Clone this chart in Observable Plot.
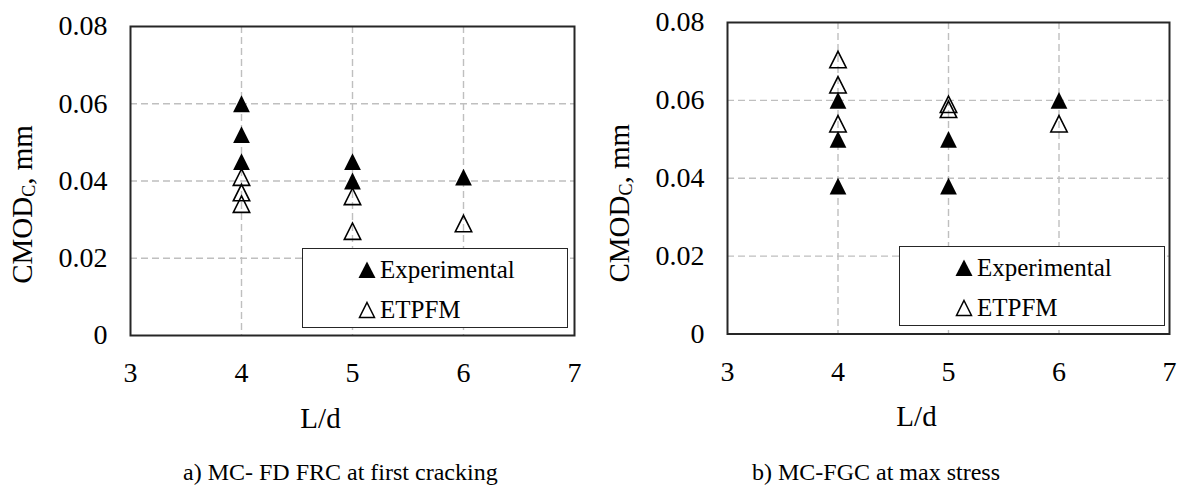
<!DOCTYPE html>
<html>
<head>
<meta charset="utf-8">
<script src="https://cdn.jsdelivr.net/npm/d3@7"></script>
<script src="https://cdn.jsdelivr.net/npm/@observablehq/plot@0.6"></script>
<style>
  html, body { margin: 0; padding: 0; background: #fff; }
  #wrap { position: relative; width: 1179px; height: 489px; background: #fff; overflow: hidden;
          font-family: 'Liberation Serif', 'DejaVu Serif', serif; color: #000; }
  .panel { position: absolute; top: 0; }
  .legend { position: absolute; border: 1.6px solid #262626; box-sizing: border-box; background: #fff; }
  .legend .lab { position: absolute; font-size: 25px; line-height: 25px; white-space: nowrap; }
  .legend svg { position: absolute; overflow: visible; }
  .caption { position: absolute; font-size: 24px; line-height: 24px; white-space: nowrap; }
</style>
</head>
<body>
<div id="wrap"></div>
<script>
// ---- data ----
const xTicks = [3, 4, 5, 6, 7];
const yTicks = [0, 0.02, 0.04, 0.06, 0.08];
const xGrid = [4, 5, 6];
const yGrid = [0.02, 0.04, 0.06];

// a) MC- FD FRC at first cracking
const aExpX = [4, 4, 4, 5, 5, 6];
const aExpY = [0.060, 0.052, 0.045, 0.045, 0.040, 0.041];
const aEtpX = [4, 4, 4, 5, 5, 6];
const aEtpY = [0.041, 0.037, 0.034, 0.036, 0.027, 0.029];

// b) MC-FGC at max stress
const bExpX = [4, 4, 4, 5, 5, 6];
const bExpY = [0.060, 0.050, 0.038, 0.050, 0.038, 0.060];
const bEtpX = [4, 4, 4, 5, 5, 6];
const bEtpY = [0.0705, 0.064, 0.054, 0.059, 0.0577, 0.054];

const seriesNames = ["Experimental", "ETPFM"];
const captions = ["a) MC- FD FRC at first cracking", "b) MC-FGC at max stress"];
const xLabel = "L/d";
const yLabelMain = "CMOD", yLabelSub = "C", yLabelRest = ", mm";

// ---- drawing ----
const FONT = "'Liberation Serif', 'DejaVu Serif', serif";
// triangle marker whose bounding box is centred on the value
const tri = {
  draw(ctx, size) {
    const r = Math.sqrt(size / Math.PI);
    ctx.moveTo(0, -r); ctx.lineTo(r, r); ctx.lineTo(-r, r); ctx.closePath();
  }
};

function makePanel(cfg) {
  const exp = cfg.expX.map((x, i) => ({x, y: cfg.expY[i]}));
  const etp = cfg.etpX.map((x, i) => ({x, y: cfg.etpY[i]}));
  const fullY = yLabelMain + yLabelSub + yLabelRest;
  const svg = Plot.plot({
    width: cfg.width, height: 400,
    marginLeft: cfg.ml, marginRight: cfg.mr, marginTop: cfg.mt, marginBottom: cfg.mb,
    style: {fontFamily: FONT, fontSize: "28px", color: "#000", background: "transparent", overflow: "visible"},
    x: {domain: [3, 7]},
    y: {domain: [0, 0.08]},
    marks: [
      Plot.gridX(xGrid, {stroke: "#bfbfbf", strokeOpacity: 1, strokeWidth: 1.4, strokeDasharray: "7,4"}),
      Plot.gridY(yGrid, {stroke: "#bfbfbf", strokeOpacity: 1, strokeWidth: 1.4, strokeDasharray: "7,4"}),
      Plot.axisX(xTicks, {tickSize: 0, tickPadding: 27, fontSize: 28, label: null, fill: "#000"}),
      Plot.axisY(yTicks, {tickSize: 0, tickPadding: 23, fontSize: 28, label: null, fill: "#000",
        tickFormat: d => d === 0 ? "0" : d.toFixed(2)}),
      Plot.dot(etp, {x: "x", y: "y", symbol: tri, r: 8.2, fill: "none", stroke: "#000",
        strokeWidth: 1.6, strokeLinejoin: "miter"}),
      Plot.dot(exp, {x: "x", y: "y", symbol: tri, r: 8.4, fill: "#000", stroke: "none"}),
      Plot.frame({stroke: "#262626", strokeWidth: 2}),
      Plot.text([xLabel], {text: d => d, frameAnchor: "bottom", textAnchor: "middle", lineAnchor: "middle",
        dx: -32, dy: 83, fontSize: 29, fill: "#000"}),
      Plot.text([fullY], {text: d => d, frameAnchor: "left", textAnchor: "middle", lineAnchor: "middle",
        rotate: -90, dx: -108, dy: cfg.ydy, fontSize: 29, fill: "#000"})
    ]
  });
  // subscript C in the y title
  svg.querySelectorAll("text").forEach(t => {
    if (t.textContent === fullY) {
      t.textContent = "";
      const ns = "http://www.w3.org/2000/svg";
      const a = document.createElementNS(ns, "tspan"); a.textContent = yLabelMain;
      const b = document.createElementNS(ns, "tspan"); b.textContent = yLabelSub;
      b.setAttribute("font-size", "18"); b.setAttribute("dy", "3");
      const c = document.createElementNS(ns, "tspan"); c.textContent = yLabelRest; c.setAttribute("dy", "-3");
      t.append(a, b, c);
    }
  });
  svg.classList.add("panel");
  svg.style.left = cfg.left + "px";
  return svg;
}

function triSvg(filled) {
  const ns = "http://www.w3.org/2000/svg";
  const s = document.createElementNS(ns, "svg");
  s.setAttribute("width", "18"); s.setAttribute("height", "18");
  const p = document.createElementNS(ns, "path");
  p.setAttribute("d", filled ? "M9,0.5L17.5,17L0.5,17Z" : "M9,1.5L16.5,16.5L1.5,16.5Z");
  p.setAttribute("fill", filled ? "#000" : "none");
  p.setAttribute("stroke", filled ? "none" : "#000");
  p.setAttribute("stroke-width", "1.5");
  s.appendChild(p);
  return s;
}

function makeLegend(left, top) {
  const d = document.createElement("div");
  d.className = "legend";
  Object.assign(d.style, {left: left + "px", top: top + "px", width: "266px", height: "80px"});
  const rows = [20.5, 60.5];
  seriesNames.forEach((name, i) => {
    const s = triSvg(i === 0);
    s.style.left = (64 - 9) + "px";
    s.style.top = (rows[i] - 9) + "px";
    d.appendChild(s);
    const l = document.createElement("div");
    l.className = "lab";
    l.textContent = name;
    l.style.left = "77px";
    l.style.top = (rows[i] - 12.5) + "px";
    d.appendChild(l);
  });
  return d;
}

const wrap = document.getElementById("wrap");
wrap.appendChild(makePanel({expX: aExpX, expY: aExpY, etpX: aEtpX, etpY: aEtpY,
  width: 590, left: 0, ml: 130, mr: 16, mt: 26, mb: 65, ydy: 23.5}));
wrap.appendChild(makePanel({expX: bExpX, expY: bExpY, etpX: bEtpX, etpY: bEtpY,
  width: 589, left: 590, ml: 137, mr: 10, mt: 22, mb: 66.5, ydy: 25}));
wrap.appendChild(makeLegend(302, 248));
wrap.appendChild(makeLegend(899, 246));

[[captions[0], 183], [captions[1], 752]].forEach(([t, x]) => {
  const c = document.createElement("div");
  c.className = "caption";
  c.textContent = t;
  c.style.left = x + "px";
  c.style.top = "460px";
  wrap.appendChild(c);
});
</script>
</body>
</html>
